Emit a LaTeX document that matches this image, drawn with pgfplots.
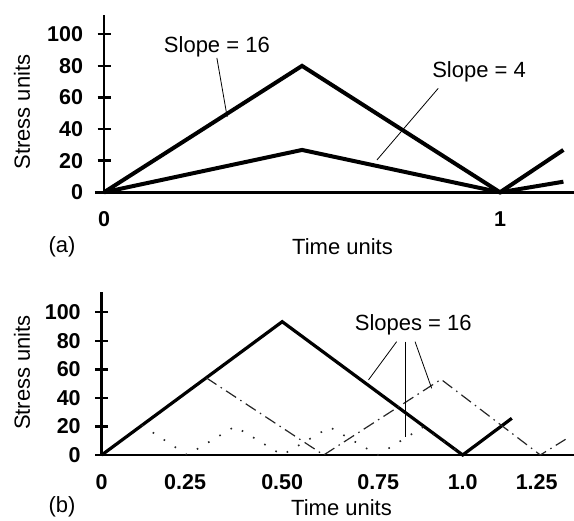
\documentclass[border=0pt]{standalone}
\usepackage{fontspec}
\setmainfont{Liberation Sans}
\usepackage{pgfplots}
\usepackage{pgfplotstable}
\pgfplotsset{compat=1.18}

% panel (a): one cycle per time unit
\pgfplotstableread{
x y
0 0
0.5 80
1 0
1.16 26.8
}\slopesixteen
\pgfplotstableread{
x y
0 0
0.5 26.8
1 0
1.16 6.7
}\slopefour

% panel (b): same slope, different times per cycle
\pgfplotstableread{
x y
0 0
0.5 93.4
1 0
1.136 25.7
}\bsolid
\pgfplotstableread{
x y
0.29 54
0.615 0
0.94 53
1.215 0
1.285 11
}\bdashdot
\pgfplotstableread{
x y
0.111 20.8
0.237 0
0.369 20
0.50 0
0.632 19.5
0.765 0
0.89 19.5
0.99 2
}\bdotted

\newcommand{\txt}{\fontsize{22}{26}\selectfont}

\pgfplotsset{
  stressaxis/.style={
    scale only axis,
    axis lines=middle,
    axis line style={line width=2.6pt,-},
    ymin=0,
    ytick={0,20,...,100},
    tick align=center,
    major tick length=13pt,
    ytick style={line width=2.4pt, black},
    xtick style={draw=none},
    hide obscured x ticks=false,
    hide obscured y ticks=false,
    tick label style={font=\fontsize{21.5}{25}\selectfont\bfseries},
    /pgf/number format/assume math mode=true,
    yticklabel style={anchor=east, xshift=-11pt},
    xticklabel style={anchor=north, yshift=-9pt},
    clip=false,
    anchor=south west,
  },
}

\begin{document}
\begin{tikzpicture}
\path[use as bounding box] (0,0) rectangle (574pt,521pt);

% ---------- (a) ----------
\begin{axis}[stressaxis,
  at={(94.9pt,328.7pt)},
  width=479.2pt, height=177pt,
  xmin=-0.023, xmax=1.187, ymax=112,
  xtick={0,1},
]
\addplot[black, line width=4pt] table {\slopesixteen};
\addplot[black, line width=4pt] table {\slopefour};
\node[font=\txt] at (axis cs:0.285,92) {Slope = 16};
\draw[black, line width=0.8pt] (axis cs:0.285,85) -- (axis cs:0.311,47.7);
\node[font=\txt] at (axis cs:0.947,76.3) {Slope = 4};
\draw[black, line width=0.8pt] (axis cs:0.844,65.8) -- (axis cs:0.689,20.4);
\end{axis}
\node[font=\txt] at (62pt,274pt) {(a)};
\node[font=\txt] at (342.5pt,274.3pt) {Time units};
\node[font=\txt, rotate=90] at (22pt,409pt) {Stress units};

% ---------- (b) ----------
\begin{axis}[stressaxis,
  at={(96.3pt,66pt)},
  width=477.6pt, height=162.7pt,
  xmin=-0.015, xmax=1.308, ymax=114,
  xtick={0,0.231,0.5,0.766,1,1.205},
  xticklabels={0,0.25,0.50,0.75,1.0,1.25},
]
\addplot[black, line width=3.2pt] table {\bsolid};
\addplot[black!85, line width=1.2pt, dash pattern=on 12pt off 5pt on 1.5pt off 5pt] table {\bdashdot};
\addplot[black!85, line width=1.6pt, dash pattern=on 1.6pt off 11.5pt] table {\bdotted};
\node[font=\txt] at (axis cs:0.863,91.1) {Slopes = 16};
\draw[black, line width=0.8pt] (axis cs:0.817,79.4) -- (axis cs:0.739,52.6);
\draw[black, line width=0.8pt] (axis cs:0.840,79.4) -- (axis cs:0.840,12.8);
\draw[black, line width=0.8pt] (axis cs:0.868,79.4) -- (axis cs:0.914,46.7);
\end{axis}
\node[font=\txt] at (62pt,14.3pt) {(b)};
\node[font=\txt] at (341.5pt,13pt) {Time units};
\node[font=\txt, rotate=90] at (22pt,148.5pt) {Stress units};
\end{tikzpicture}
\end{document}
